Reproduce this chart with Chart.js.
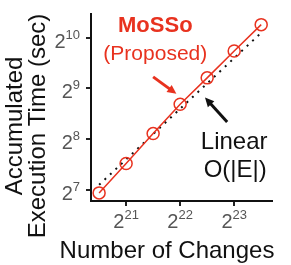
<!DOCTYPE html>
<html>
<head>
<meta charset="utf-8">
<script src="https://cdn.jsdelivr.net/npm/chart.js@4.4.1/dist/chart.umd.min.js"></script>
<style>
  html, body { margin: 0; padding: 0; background: #fff; }
  #wrap { width: 291px; height: 265px; }
</style>
</head>
<body>
<div id="wrap"><canvas id="chart"></canvas></div>
<script>
// values are log2 of the real numbers (axes are log2 scaled)
const changesLog2 = [20.5, 21, 21.5, 22, 22.5, 23, 23.5];
const mossoLog2 = [6.94, 7.52, 8.11, 8.69, 9.21, 9.74, 10.26];
const linearLog2 = [7.1, 7.6, 8.1, 8.6, 9.1, 9.6, 10.1];
const xTicks = [21, 22, 23];
const yTicks = [7, 8, 9, 10];

const RED = "#e8321f";
const FONT = "'Liberation Sans', Arial, Helvetica, sans-serif";

function toPoints(ys) {
  return changesLog2.map((x, i) => ({ x: x, y: ys[i] }));
}

function drawPow(ctx, exp, x, baseY, align) {
  ctx.font = "20px " + FONT;
  const w2 = ctx.measureText("2").width;
  ctx.font = "13px " + FONT;
  const we = ctx.measureText(exp).width;
  const total = w2 + we;
  const start = align === "right" ? x - total : x - total / 2;
  ctx.textAlign = "left";
  ctx.font = "20px " + FONT;
  ctx.fillText("2", start, baseY);
  ctx.font = "13px " + FONT;
  ctx.fillText(exp, start + w2, baseY - 9);
}

function drawArrow(ctx, x1, y1, x2, y2, color) {
  const ang = Math.atan2(y2 - y1, x2 - x1);
  const head = 10;
  ctx.strokeStyle = color;
  ctx.fillStyle = color;
  ctx.lineWidth = 3;
  ctx.beginPath();
  ctx.moveTo(x1, y1);
  ctx.lineTo(x2 - Math.cos(ang) * head * 0.8, y2 - Math.sin(ang) * head * 0.8);
  ctx.stroke();
  ctx.beginPath();
  ctx.moveTo(x2, y2);
  ctx.lineTo(x2 - head * Math.cos(ang - 0.45), y2 - head * Math.sin(ang - 0.45));
  ctx.lineTo(x2 - head * Math.cos(ang + 0.45), y2 - head * Math.sin(ang + 0.45));
  ctx.closePath();
  ctx.fill();
}

const extras = {
  id: "extras",
  afterDraw(chart) {
    const ctx = chart.ctx;
    const xs = chart.scales.x, ys = chart.scales.y;
    const area = chart.chartArea;
    ctx.save();

    // tick labels 2^n
    ctx.fillStyle = "#555";
    ctx.textBaseline = "alphabetic";
    xTicks.forEach(v => drawPow(ctx, String(v), xs.getPixelForValue(v), area.bottom + 27, "center"));
    yTicks.forEach(v => drawPow(ctx, String(v), area.left - 11, ys.getPixelForValue(v) + 10, "right"));

    // axis titles
    ctx.fillStyle = "#111";
    ctx.font = "24px " + FONT;
    ctx.textAlign = "center";
    ctx.fillText("Number of Changes", 167, 258);
    ctx.save();
    ctx.translate(22, 126);
    ctx.rotate(-Math.PI / 2);
    ctx.fillText("Accumulated", 0, 0);
    ctx.restore();
    ctx.save();
    ctx.translate(45, 126);
    ctx.rotate(-Math.PI / 2);
    ctx.fillText("Execution Time (sec)", 0, 0);
    ctx.restore();

    // annotations
    const px = v => xs.getPixelForValue(v);
    const py = v => ys.getPixelForValue(v);
    ctx.textAlign = "center";
    ctx.fillStyle = RED;
    ctx.font = "bold 22px " + FONT;
    ctx.fillText("MoSSo", px(21.54), py(10.12));
    ctx.font = "21px " + FONT;
    ctx.fillText("(Proposed)", px(21.54), py(9.57));
    drawArrow(ctx, px(21.5), py(9.23), px(21.93), py(8.895), RED);

    ctx.fillStyle = "#111";
    ctx.font = "24px " + FONT;
    ctx.fillText("Linear", px(23.0), py(7.81));
    ctx.fillText("O(|E|)", px(23.02), py(7.26));
    drawArrow(ctx, px(22.87), py(8.34), px(22.46), py(8.82), "#111");
    ctx.restore();
  }
};

new Chart(document.getElementById("chart"), {
  type: "scatter",
  data: {
    datasets: [
      {
        label: "MoSSo",
        data: toPoints(mossoLog2),
        showLine: true,
        borderColor: RED,
        borderWidth: 1.5,
        pointRadius: 6,
        pointBorderWidth: 1.5,
        pointBorderColor: RED,
        pointBackgroundColor: "rgba(0,0,0,0)",
        tension: 0
      },
      {
        label: "Linear",
        data: toPoints(linearLog2),
        showLine: true,
        borderColor: "#111",
        borderWidth: 2,
        borderDash: [2, 5.5],
        pointRadius: 0,
        tension: 0
      }
    ]
  },
  options: {
    responsive: true,
    maintainAspectRatio: false,
    animation: false,
    devicePixelRatio: 1,
    layout: { padding: { left: 86, right: 19, top: 14, bottom: 59 } },
    plugins: { legend: { display: false }, tooltip: { enabled: false } },
    scales: {
      x: {
        type: "linear",
        min: 20.35,
        max: 23.7,
        afterBuildTicks: s => { s.ticks = xTicks.map(v => ({ value: v })); },
        ticks: { display: false },
        grid: { drawOnChartArea: false, drawTicks: true, tickLength: 5, color: "#222", lineWidth: 2 },
        border: { display: true, color: "#111", width: 2 }
      },
      y: {
        type: "linear",
        min: 6.78,
        max: 10.47,
        afterBuildTicks: s => { s.ticks = yTicks.map(v => ({ value: v })); },
        ticks: { display: false },
        grid: { drawOnChartArea: false, drawTicks: true, tickLength: 5, color: "#222", lineWidth: 2 },
        border: { display: true, color: "#111", width: 2 }
      }
    }
  },
  plugins: [extras]
});
</script>
</body>
</html>
